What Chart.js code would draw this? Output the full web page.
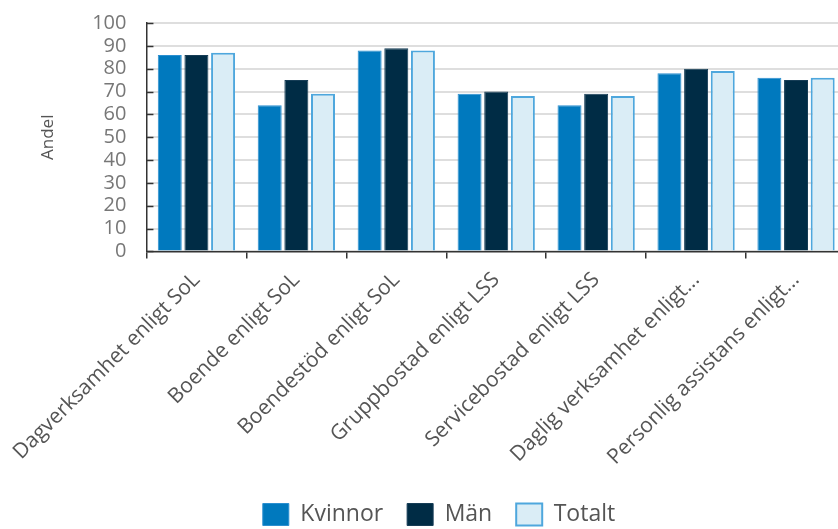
<!DOCTYPE html>
<html>
<head>
<meta charset="utf-8">
<script src="https://cdn.jsdelivr.net/npm/chart.js@4/dist/chart.umd.min.js"></script>
<style>
  html, body { margin: 0; padding: 0; background: #fff; overflow: hidden; }
  #wrap { width: 850px; height: 529px; }
</style>
</head>
<body>
<div id="wrap"><canvas id="c" width="850" height="529"></canvas></div>
<script>
// Categories (insatser) and shares per group
const categories = [
  "Dagverksamhet enligt SoL",
  "Boende enligt SoL",
  "Boendestöd enligt SoL",
  "Gruppbostad enligt LSS",
  "Servicebostad enligt LSS",
  "Daglig verksamhet enligt...",
  "Personlig assistans enligt..."
];
const kvinnor = [86, 64, 88, 69, 64, 78, 76];
const man     = [86, 75, 89, 70, 69, 80, 75];
const totalt  = [87, 69, 88, 68, 68, 79, 76];
const yTicks  = [0, 10, 20, 30, 40, 50, 60, 70, 80, 90, 100];

const FONT = "'Open Sans', 'Noto Sans', sans-serif";

// Short tick marks drawn on the inside of the y axis
const innerTicks = {
  id: 'innerTicks',
  afterDatasetsDraw(chart) {
    const y = chart.scales.y, ctx = chart.ctx;
    const x0 = chart.chartArea.left;
    ctx.save();
    ctx.strokeStyle = '#333';
    ctx.lineWidth = 1.5;
    yTicks.forEach(v => {
      const py = Math.round(y.getPixelForValue(v)) + 0.5;
      ctx.beginPath();
      ctx.moveTo(x0, py);
      ctx.lineTo(x0 + 7, py);
      ctx.stroke();
    });
    ctx.restore();
  }
};

// Nudge the legend row a little to the right of the canvas centre
const legendShift = {
  id: 'legendShift',
  afterLayout(chart) {
    if (chart.legend) { chart.legend.left += 16; chart.legend.right += 16; }
  }
};

new Chart(document.getElementById('c'), {
  type: 'bar',
  data: {
    labels: categories,
    datasets: [
      { label: 'Kvinnor', data: kvinnor, backgroundColor: '#0079be', borderColor: '#2b8fd0', borderWidth: 1 },
      { label: 'Män', data: man, backgroundColor: '#002c45', borderColor: '#163d56', borderWidth: 1 },
      { label: 'Totalt', data: totalt, backgroundColor: '#daedf6', borderColor: '#4ea7dd', borderWidth: 2 }
    ]
  },
  options: {
    responsive: false,
    animation: false,
    layout: { padding: { top: 23, right: 4, left: 0, bottom: -7 } },
    datasets: { bar: { categoryPercentage: 0.8, barPercentage: 0.9 } },
    plugins: {
      legend: {
        position: 'bottom',
        labels: {
          font: { family: FONT, size: 23 },
          color: '#555',
          boxWidth: 26,
          boxHeight: 22,
          padding: 24,
          useBorderRadius: false
        }
      },
      tooltip: { enabled: false }
    },
    scales: {
      x: {
        grid: { display: true, drawOnChartArea: false, offset: true, color: '#333', tickLength: 7, lineWidth: 1.5 },
        border: { color: '#333', width: 1.5 },
        ticks: {
          font: { family: FONT, size: 21 },
          color: '#555',
          minRotation: 45,
          maxRotation: 45,
          autoSkip: false,
          padding: 9
        }
      },
      y: {
        min: 0,
        max: 100,
        afterBuildTicks(scale) { scale.ticks = yTicks.map(v => ({ value: v })); },
        afterFit(scale) { scale.paddingTop = 0; scale.paddingBottom = 0; },
        grid: { color: '#dedede', lineWidth: 2, drawTicks: false },
        border: { color: '#333', width: 1.5 },
        ticks: {
          font: { family: FONT, size: 20 },
          color: '#777',
          padding: 20,
          autoSkip: false
        },
        title: {
          display: true,
          text: 'Andel',
          font: { family: FONT, size: 17 },
          color: '#555',
          padding: { top: 4, bottom: 14 }
        }
      }
    }
  },
  plugins: [innerTicks, legendShift]
});
</script>
</body>
</html>
